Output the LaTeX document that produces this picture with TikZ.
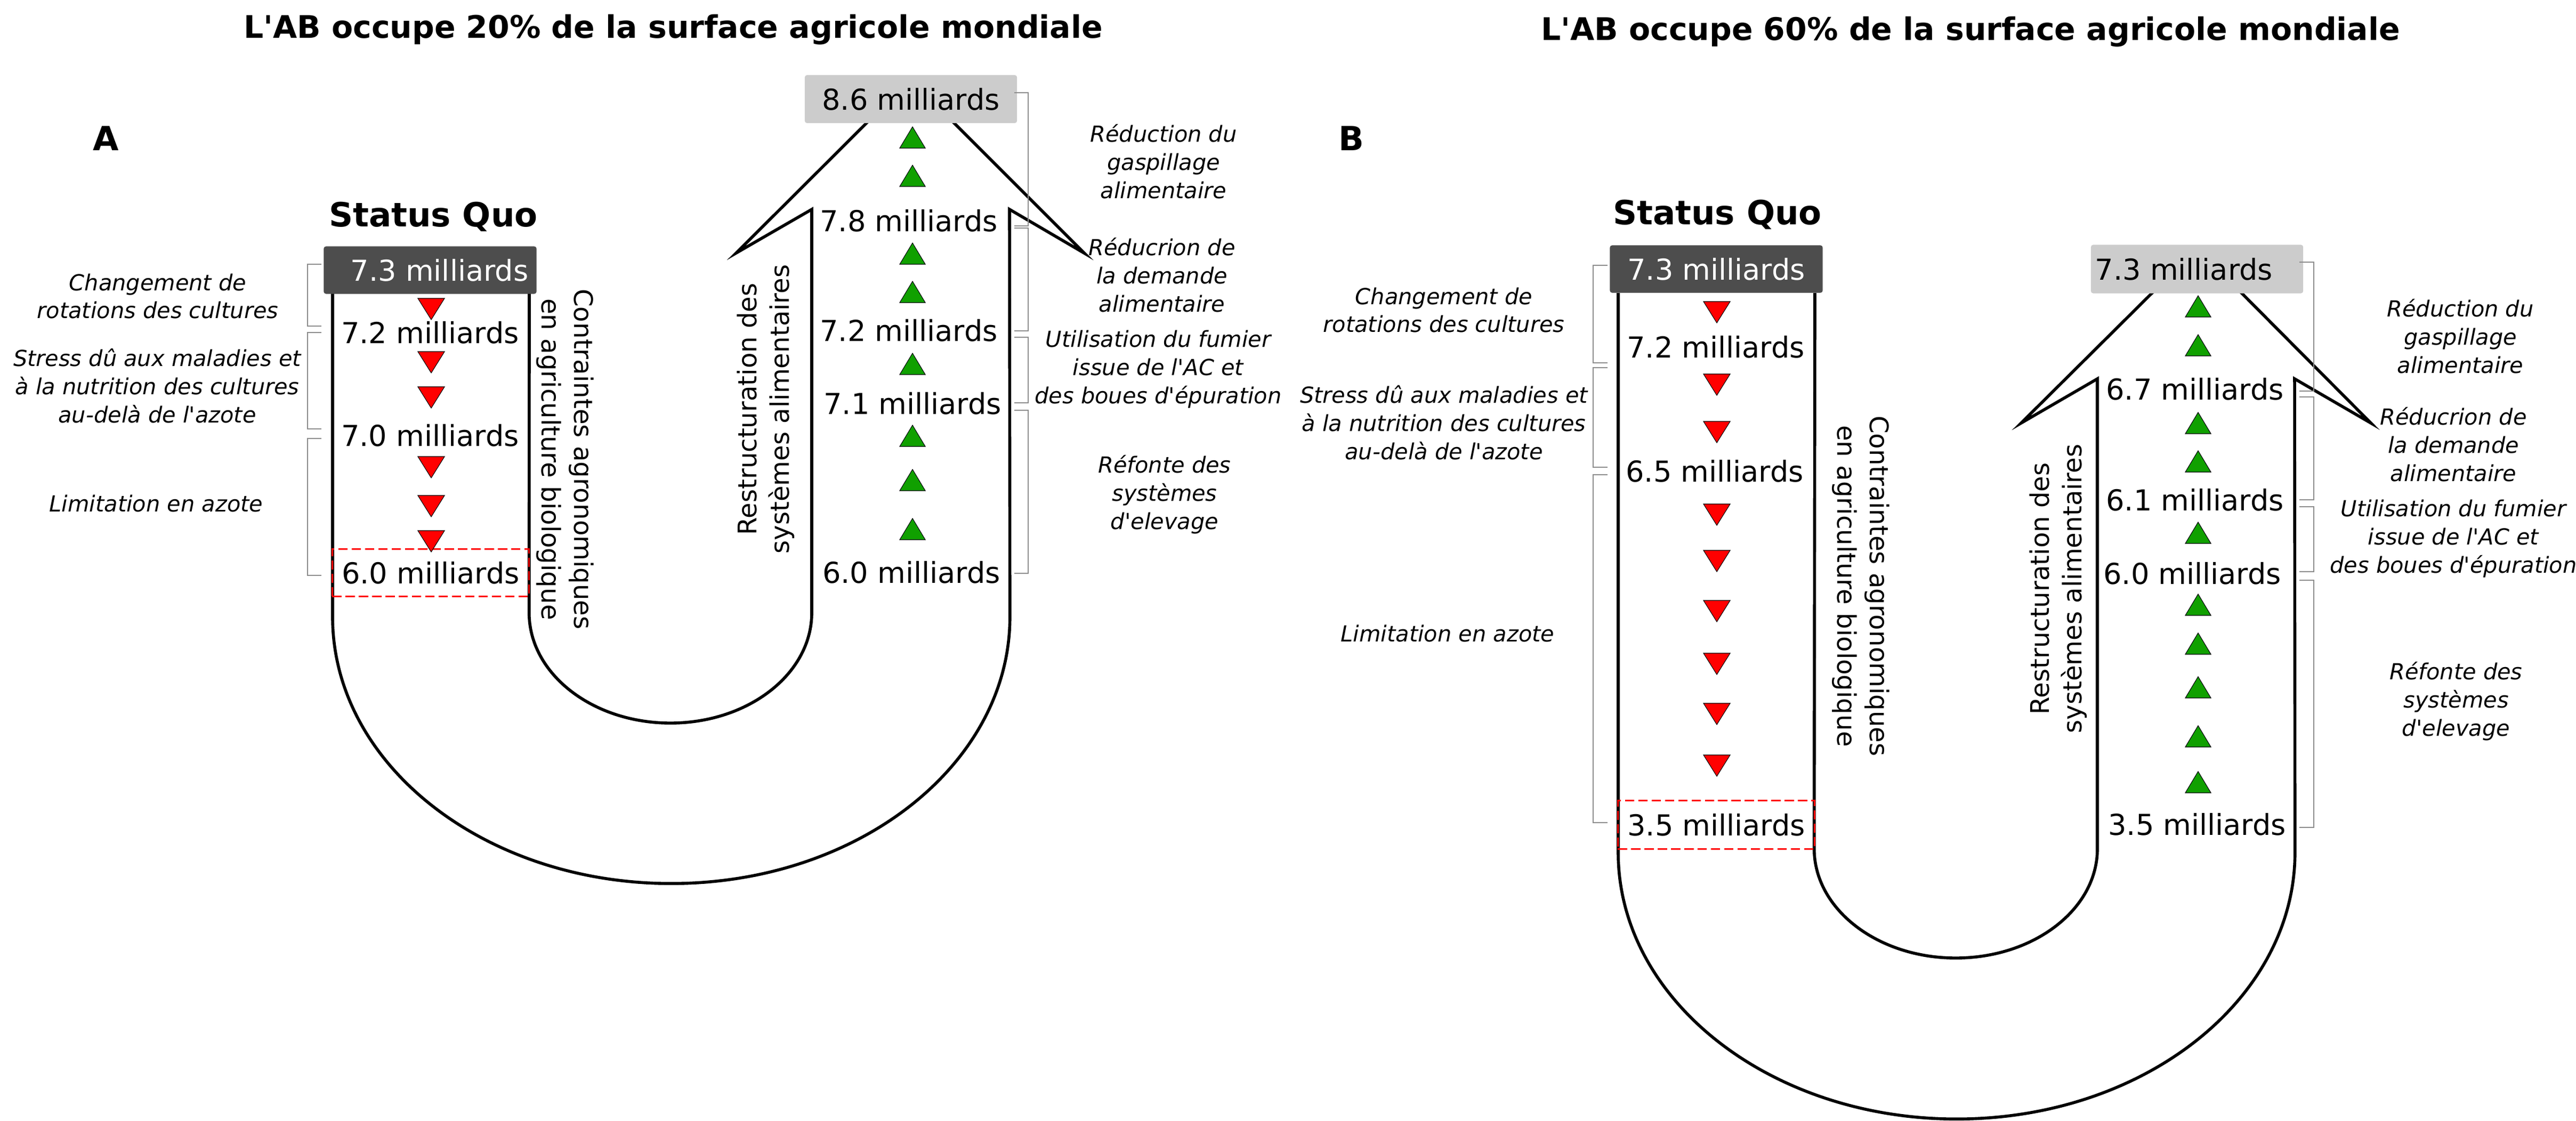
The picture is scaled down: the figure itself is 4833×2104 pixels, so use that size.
\documentclass[tikz,border=0pt]{standalone}
\usepackage{fontspec}
\setmainfont{DejaVu Sans}[Ligatures=TeXOff]
\definecolor{darkbox}{HTML}{4D4D4D}
\definecolor{lightbox}{HTML}{CCCCCC}
\definecolor{upgreen}{HTML}{10A000}
\definecolor{bracegray}{HTML}{8C8C8C}
\tikzset{
  num/.style={font=\fontsize{15.4}{18}\selectfont, inner sep=0pt},
  topbox/.style={num, fill=darkbox, text=white, rounded corners=1.2pt, minimum width=3.99cm, minimum height=0.89cm},
  goalbox/.style={num, fill=lightbox, rounded corners=1.2pt, minimum width=3.98cm, minimum height=0.90cm},
  lowbox/.style={num, draw=red, line width=0.75pt, dash pattern=on 4.9pt off 2.2pt, minimum width=3.69cm, minimum height=0.89cm},
  note/.style={font=\fontsize{11.8}{15}\selectfont\itshape, align=center, inner sep=0pt},
  side/.style={font=\fontsize{13.7}{17.4}\selectfont, align=center, inner sep=0pt},
  title/.style={font=\fontsize{16.6}{20}\selectfont\bfseries, inner sep=0pt},
  head/.style={font=\fontsize{17.8}{21}\selectfont\bfseries, inner sep=0pt},
  ushape/.style={line width=1.6pt, line join=miter},
  brace/.style={draw=bracegray, line width=0.6pt},
  redtri/.pic={\draw[fill=red, line width=0.3pt] (-25,-20) -- (25,-20) -- (0,20) -- cycle;},
  greentri/.pic={\draw[fill=upgreen, line width=0.3pt] (-24,20) -- (24,20) -- (0,-20) -- cycle;},
}
\begin{document}
\begin{tikzpicture}[x=0.01cm, y=-0.01cm]
  \useasboundingbox (0,0) rectangle (4833,2104);

  % panel A
  \draw[ushape] (624,550) -- (624,1158) arc[start angle=180, end angle=360, x radius=6.35cm, y radius=5cm]
    -- (1894,393) -- (2034,475) -- (1708,149) -- (1381,475) -- (1523,393) -- (1523,1150)
    arc[start angle=0, end angle=-180, x radius=2.65cm, y radius=2.07cm] -- (993,550);

  \node[title] (atitle) at (1263,56) {L'AB occupe 20\% de la surface agricole mondiale};
  \node[head] (alabel) at (199,260) {A};
  \node[head] (aquo) at (813,407) {Status Quo};

  \node[topbox] (a73) at (807,507) {\hspace{10pt}7.3 milliards};
  \node[num] (a72) at (807,624) {7.2 milliards};
  \node[num] (a70) at (807,817) {7.0 milliards};
  \node[lowbox] (a60) at (808,1075) {6.0 milliards};

  \node[goalbox] (a86) at (1709,186) {8.6 milliards};
  \node[num] (a78) at (1705,414) {7.8 milliards};
  \node[num] (a72b) at (1705,620) {7.2 milliards};
  \node[num] (a71) at (1712,757) {7.1 milliards};
  \node[num] (a60b) at (1710,1074) {6.0 milliards};

  \foreach \y in {580,680,746,877,950,1016} \pic at (809,\y) {redtri};
  \foreach \y in {258,330,476,548,683,818,901,993} \pic at (1712,\y) {greentri};

  \node[side, rotate=-90] (acons) at (1060,862) {Contraintes agronomiques\\en agriculture biologique};
  \node[side, rotate=90] (arest) at (1437,768) {Restructuration des\\systèmes alimentaires};

  \foreach \ya/\yb in {496/612,624/805,823/1080}
    \draw[brace] (603,\ya) -- (577,\ya) -- (577,\yb) -- (603,\yb);
  \foreach \ya/\yb in {174/424,428/621,633/756,770/1076}
    \draw[brace] (1903,\ya) -- (1929,\ya) -- (1929,\yb) -- (1903,\yb);

  \node[note] (achg) at (296,556) {Changement de\\rotations des cultures};
  \node[note] (astr) at (295,724) {Stress dû aux maladies et\\à la nutrition des cultures\\au-delà de l'azote};
  \node[note] (alim) at (293,945) {Limitation en azote};
  \node[note] (agasp) at (2183,303) {Réduction du\\gaspillage\\alimentaire};
  \node[note] (adem) at (2180,516) {Réducrion de\\la demande\\alimentaire};
  \node[note] (afum) at (2173,693) {Utilisation du fumier\\issue de l'AC et\\des boues d'épuration};
  \node[note] (aelev) at (2185,928) {Réfonte des\\systèmes\\d'elevage};

  % panel B
  \draw[ushape] (3036,550) -- (3036,1600) arc[start angle=180, end angle=360, x radius=6.345cm, y radius=5cm]
    -- (4305,711) -- (4448,794) -- (4122,466) -- (3792,794) -- (3935,711) -- (3935,1593)
    arc[start angle=0, end angle=-180, x radius=2.655cm, y radius=2.05cm] -- (3405,550);

  \node[title] (btitle) at (3697,60) {L'AB occupe 60\% de la surface agricole mondiale};
  \node[head] (blabel) at (2535,260) {B};
  \node[head] (bquo) at (3222,403) {Status Quo};

  \node[topbox] (b73) at (3220,505) {7.3 milliards};
  \node[num] (b72) at (3219,651) {7.2 milliards};
  \node[num] (b65) at (3217,884) {6.5 milliards};
  \node[lowbox, minimum height=0.91cm] (b35) at (3220,1548) {3.5 milliards};

  \node[goalbox, minimum height=0.91cm] (b73b) at (4122,505) {\hspace{-14pt}7.3 milliards};
  \node[num] (b67) at (4118,730) {6.7 milliards};
  \node[num] (b61) at (4118,938) {6.1 milliards};
  \node[num] (b60) at (4113,1076) {6.0 milliards};
  \node[num] (b35b) at (4122,1547) {3.5 milliards};

  \foreach \y in {586,722,811,966,1053,1147,1246,1340,1437} \pic at (3221,\y) {redtri};
  \foreach \y in {575,648,794,866,1000,1135,1208,1290,1382,1468} \pic at (4124,\y) {greentri};

  \node[side, rotate=-90] (bcons) at (3491,1100) {Contraintes agronomiques\\en agriculture biologique};
  \node[side, rotate=90] (brest) at (3862,1105) {Restructuration des\\systèmes alimentaires};

  \foreach \ya/\yb in {498/681,690/877,891/1544}
    \draw[brace] (3016,\ya) -- (2989,\ya) -- (2989,\yb) -- (3016,\yb);
  \foreach \ya/\yb in {492/734,745/938,951/1073,1089/1553}
    \draw[brace] (4314,\ya) -- (4341,\ya) -- (4341,\yb) -- (4314,\yb);

  \node[note] (bchg) at (2709,582) {Changement de\\rotations des cultures};
  \node[note] (bstr) at (2709,793) {Stress dû aux maladies et\\à la nutrition des cultures\\au-delà de l'azote};
  \node[note] (blim) at (2716,1189) {Limitation en azote};
  \node[note] (bgasp) at (4616,631) {Réduction du\\gaspillage\\alimentaire};
  \node[note] (bdem) at (4603,834) {Réducrion de\\la demande\\alimentaire};
  \node[note] (bfum) at (4603,1011) {Utilisation du fumier\\issue de l'AC et\\des boues d'épuration};
  \node[note] (belev) at (4608,1316) {Réfonte des\\systèmes\\d'elevage};
\end{tikzpicture}
\end{document}
